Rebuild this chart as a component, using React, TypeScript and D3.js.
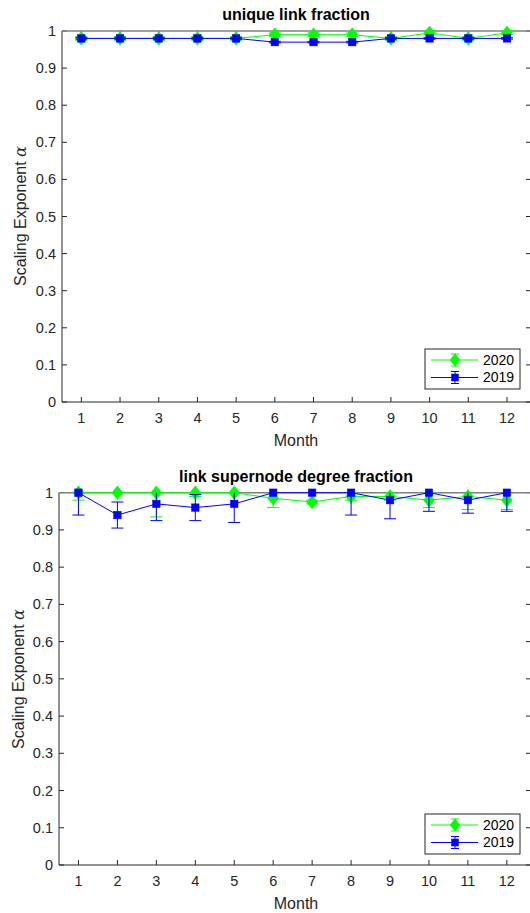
import React from "react";
import * as d3 from "d3";

const months = [1, 2, 3, 4, 5, 6, 7, 8, 9, 10, 11, 12];
const yTicks = [0, 0.1, 0.2, 0.3, 0.4, 0.5, 0.6, 0.7, 0.8, 0.9, 1];
const yTickLabels = ["0", "0.1", "0.2", "0.3", "0.4", "0.5", "0.6", "0.7", "0.8", "0.9", "1"];

const titles = ["unique link fraction", "link supernode degree fraction"];
const seriesNames = ["2020", "2019"];

// panel 1: unique link fraction
const p1_2020 = [0.98, 0.98, 0.98, 0.98, 0.98, 0.99, 0.99, 0.99, 0.98, 0.995, 0.98, 0.995];
const p1_2020_err = [0.005, 0.005, 0.005, 0.005, 0.005, 0.005, 0.005, 0.005, 0.005, 0.005, 0.005, 0.005];
const p1_2019 = [0.98, 0.98, 0.98, 0.98, 0.98, 0.97, 0.97, 0.97, 0.98, 0.98, 0.98, 0.98];
const p1_2019_err = [0.002, 0.002, 0.002, 0.002, 0.002, 0.002, 0.002, 0.002, 0.002, 0.002, 0.002, 0.002];

// panel 2: link supernode degree fraction
const p2_2020 = [1.0, 1.0, 1.0, 1.0, 1.0, 0.985, 0.975, 0.99, 0.99, 0.98, 0.99, 0.98];
const p2_2020_err = [0.02, 0.0, 0.065, 0.01, 0.0, 0.025, 0.005, 0.01, 0.01, 0.02, 0.035, 0.025];
const p2_2019 = [1.0, 0.94, 0.97, 0.96, 0.97, 1.0, 1.0, 1.0, 0.98, 1.0, 0.98, 1.0];
const p2_2019_err = [0.06, 0.035, 0.045, 0.035, 0.05, 0.0, 0.0, 0.06, 0.05, 0.05, 0.035, 0.05];

const GREEN = "#00ff00";
const BLUE = "#0000ff";
const AXIS = "#262626";

type Panel = {
  title: string;
  left: number;
  right: number;
  top: number;
  bottom: number;
  a: number[];
  aErr: number[];
  b: number[];
  bErr: number[];
  legendTop: number;
  yLabelY: number;
};

const panels: Panel[] = [
  { title: titles[0], left: 62, right: 531, top: 31, bottom: 402, a: p1_2020, aErr: p1_2020_err, b: p1_2019, bErr: p1_2019_err, legendTop: 349, yLabelY: 216 },
  { title: titles[1], left: 59, right: 531, top: 492.7, bottom: 865, a: p2_2020, aErr: p2_2020_err, b: p2_2019, bErr: p2_2019_err, legendTop: 814, yLabelY: 679 },
];

const FONT = "'Liberation Sans', Arial, Helvetica, sans-serif";

function Diamond({ cx, cy, r, color }: { cx: number; cy: number; r: number; color: string }) {
  const p = `M${cx},${cy - r * 1.25}L${cx + r},${cy}L${cx},${cy + r * 1.25}L${cx - r},${cy}Z`;
  return <path d={p} fill={color} stroke={color} strokeWidth={0.5} />;
}
function Square({ cx, cy, s, color }: { cx: number; cy: number; s: number; color: string }) {
  return <rect x={cx - s / 2} y={cy - s / 2} width={s} height={s} fill={color} stroke={color} strokeWidth={0.5} />;
}

function ErrorBars({ x, y, vals, errs, color, clipTop }: any) {
  return (
    <g>
      {vals.map((v: number, i: number) => {
        const e = errs[i];
        if (e <= 0) return null;
        const cx = x(months[i]);
        const y1 = Math.max(y(v + e), clipTop);
        const y2 = y(v - e);
        const showTopCap = y(v + e) >= clipTop;
        return (
          <g key={i} stroke={color} strokeWidth={1}>
            <line x1={cx} x2={cx} y1={y1} y2={y2} />
            <line x1={cx - 6} x2={cx + 6} y1={y2} y2={y2} />
            {showTopCap && <line x1={cx - 6} x2={cx + 6} y1={y(v + e)} y2={y(v + e)} />}
          </g>
        );
      })}
    </g>
  );
}

function PanelView({ p, idx }: { p: Panel; idx: number }) {
  const x = d3.scaleLinear().domain([0.5, 12.62]).range([p.left, p.right]);
  const y = d3.scaleLinear().domain([0, 1]).range([p.bottom, p.top]);
  const line = d3
    .line<number>()
    .x((_, i) => x(months[i]))
    .y((d) => y(d));
  const lx = 425;
  const lw = 95;
  const lh = 40;
  const ly = p.legendTop;
  return (
    <g>
      <rect x={p.left} y={p.top} width={p.right - p.left} height={p.bottom - p.top} fill="white" stroke="none" />
      {yTicks.map((t, i) => (
        <g key={"y" + i}>
          <line x1={p.left} x2={p.left + 5} y1={y(t)} y2={y(t)} stroke={AXIS} />
          <line x1={p.right - 5} x2={p.right} y1={y(t)} y2={y(t)} stroke={AXIS} />
          <text x={p.left - 6} y={y(t)} dy="0.35em" textAnchor="end" fontSize={14.5} fill={AXIS} fontFamily={FONT}>
            {yTickLabels[i]}
          </text>
        </g>
      ))}
      {months.map((m) => (
        <g key={"x" + m}>
          <line x1={x(m)} x2={x(m)} y1={p.bottom} y2={p.bottom - 5} stroke={AXIS} />
          <line x1={x(m)} x2={x(m)} y1={p.top} y2={p.top + 5} stroke={AXIS} />
          <text x={x(m)} y={p.bottom + 21} textAnchor="middle" fontSize={14.5} fill={AXIS} fontFamily={FONT}>
            {m}
          </text>
        </g>
      ))}
      <line x1={p.left} x2={p.left} y1={p.top} y2={p.bottom} stroke={AXIS} />
      <line x1={p.left} x2={p.right} y1={p.bottom} y2={p.bottom} stroke={AXIS} />
      <line x1={p.left} x2={p.right} y1={p.top} y2={p.top} stroke="#808080" strokeWidth={1.5} />
      <line x1={p.right} x2={p.right} y1={p.top} y2={p.bottom} stroke={AXIS} />
      <g>
        <ErrorBars x={x} y={y} vals={p.a} errs={p.aErr} color={GREEN} clipTop={p.top} />
        <path d={line(p.a) || ""} fill="none" stroke={GREEN} strokeWidth={1} />
        {p.a.map((v, i) => (
          <Diamond key={i} cx={x(months[i])} cy={y(v)} r={5.5} color={GREEN} />
        ))}
        <ErrorBars x={x} y={y} vals={p.b} errs={p.bErr} color={BLUE} clipTop={p.top} />
        <path d={line(p.b) || ""} fill="none" stroke={BLUE} strokeWidth={1} />
        {p.b.map((v, i) => (
          <Square key={i} cx={x(months[i])} cy={y(v)} s={7.5} color={BLUE} />
        ))}
      </g>
      <text x={296} y={p.top - 11} textAnchor="middle" fontWeight="bold" fontSize={16} fill="#000" fontFamily={FONT}>
        {p.title}
      </text>
      <text x={296} y={p.bottom + 44} textAnchor="middle" fontSize={16} fill={AXIS} fontFamily={FONT}>
        Month
      </text>
      <text
        transform={`translate(${idx === 0 ? 26 : 24},${p.yLabelY}) rotate(-90)`}
        textAnchor="middle"
        fontSize={16}
        fill={AXIS}
        fontFamily={FONT}
      >
        Scaling Exponent <tspan fontFamily="'DejaVu Serif', serif" fontStyle="italic">α</tspan>
      </text>
      <rect x={lx} y={ly} width={lw} height={lh} fill="white" stroke={AXIS} strokeWidth={1} />
      {seriesNames.map((s, i) => {
        const cy = ly + 11 + i * 17.5;
        const mx = lx + 30;
        const color = i === 0 ? GREEN : BLUE;
        return (
          <g key={s}>
            <line x1={lx + 6} x2={lx + 53} y1={cy} y2={cy} stroke={color} />
            <line x1={mx} x2={mx} y1={cy - 6} y2={cy + 6} stroke={color} />
            <line x1={mx - 4} x2={mx + 4} y1={cy - 6} y2={cy - 6} stroke={color} />
            <line x1={mx - 4} x2={mx + 4} y1={cy + 6} y2={cy + 6} stroke={color} />
            {i === 0 ? <Diamond cx={mx} cy={cy} r={5} color={color} /> : <Square cx={mx} cy={cy} s={7} color={color} />}
            <text x={lx + 58} y={cy} dy="0.35em" fontSize={14} fill="#000" fontFamily={FONT}>
              {s}
            </text>
          </g>
        );
      })}
    </g>
  );
}

export default function App() {
  return (
    <svg width={530} height={913} style={{ position: "absolute", left: 0, top: 0, background: "white" }}>
      <rect x={0} y={0} width={530} height={913} fill="white" />
      {panels.map((p, i) => (
        <PanelView key={i} p={p} idx={i} />
      ))}
    </svg>
  );
}
